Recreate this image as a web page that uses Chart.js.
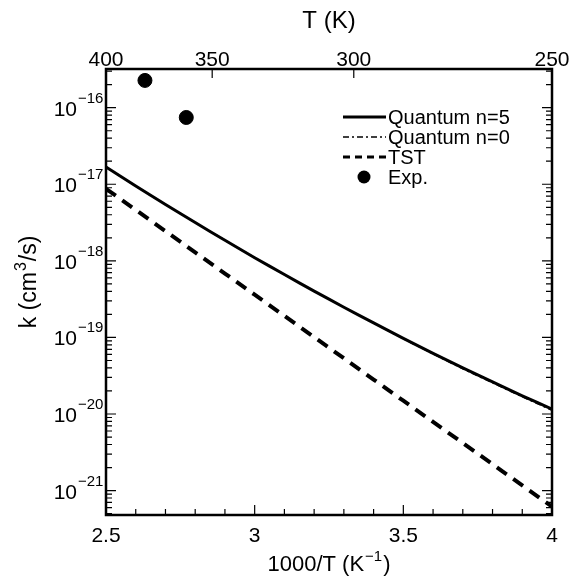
<!DOCTYPE html>
<html>
<head>
<meta charset="utf-8">
<script src="https://cdn.jsdelivr.net/npm/chart.js@4.4.1/dist/chart.umd.min.js"></script>
<style>
    html, body { margin: 0; padding: 0; background: #fff; }
    #wrap { width: 571px; height: 579px; }
</style>
</head>
<body>
<div id="wrap"><canvas id="rateChart" width="571" height="579"></canvas></div>
<script>
// 1000/T grid (K^-1) and the rate constants (cm^3/s)
const invT = [2.5, 2.6, 2.7, 2.8, 2.9, 3.0, 3.1, 3.2, 3.3, 3.4, 3.5, 3.6, 3.7, 3.8, 3.9, 4.0];
const quantum5 = [1.68e-17, 9.5e-18, 5.45e-18, 3.16e-18, 1.86e-18, 1.10e-18, 6.62e-19, 4.03e-19,
                  2.48e-19, 1.55e-19, 9.7e-20, 6.2e-20, 4.0e-20, 2.62e-20, 1.73e-20, 1.16e-20];
const quantum0 = [1.68e-17, 9.5e-18, 5.45e-18, 3.16e-18, 1.86e-18, 1.10e-18, 6.62e-19, 4.03e-19,
                  2.48e-19, 1.55e-19, 9.6e-20, 6.1e-20, 3.9e-20, 2.55e-20, 1.68e-20, 1.12e-20];
const tst = [8.73e-18, 4.62e-18, 2.44e-18, 1.29e-18, 6.83e-19, 3.61e-19, 1.91e-19, 1.01e-19,
             5.34e-20, 2.82e-20, 1.49e-20, 7.89e-21, 4.18e-21, 2.21e-21, 1.17e-21, 6.17e-22];
const expInvT = [2.631, 2.770];
const expK = [2.27e-16, 7.45e-17];

// axis labels
const xTickLabels = [2.5, 3, 3.5, 4];
const yDecades = [-16, -17, -18, -19, -20, -21];
const topTemps = [400, 350, 300, 250];

const FONT = '"Liberation Sans", Arial, Helvetica, sans-serif';

function toPoints(xs, ys) {
    return xs.map((x, i) => ({ x: x, y: ys[i] }));
}

// draws base + raised sup + tail, centred on x
function titleWithSup(ctx, base, sup, tail, x, y, size) {
    const supSize = Math.round(size * 0.68);
    ctx.font = size + 'px ' + FONT;
    const wb = ctx.measureText(base).width;
    const wt = ctx.measureText(tail).width;
    ctx.font = supSize + 'px ' + FONT;
    const ws = ctx.measureText(sup).width;
    let x0 = x - (wb + ws + wt + 2) / 2;
    ctx.textAlign = 'left';
    ctx.textBaseline = 'alphabetic';
    ctx.font = size + 'px ' + FONT;
    ctx.fillText(base, x0, y);
    ctx.font = supSize + 'px ' + FONT;
    ctx.fillText(sup, x0 + wb + 1, y - size * 0.45);
    ctx.font = size + 'px ' + FONT;
    ctx.fillText(tail, x0 + wb + ws + 2, y);
}

const framePlugin = {
    id: 'frame',
    afterDraw(chart) {
        const ctx = chart.ctx;
        const area = chart.chartArea;
        const xs = chart.scales.x;
        const ys = chart.scales.y;
        ctx.save();
        ctx.strokeStyle = '#000';
        ctx.fillStyle = '#000';

        // frame
        ctx.lineWidth = 2.5;
        ctx.strokeRect(area.left, area.top, area.right - area.left, area.bottom - area.top);

        // log ticks on left and right, pointing inward
        ctx.lineWidth = 1.2;
        for (let d = -22; d <= -16; d++) {
            for (let m = 1; m <= 9; m++) {
                const v = m * Math.pow(10, d);
                if (v < ys.min || v > ys.max) continue;
                const py = ys.getPixelForValue(v);
                const len = m === 1 ? 10 : 6;
                ctx.beginPath();
                ctx.moveTo(area.left, py); ctx.lineTo(area.left + len, py);
                ctx.moveTo(area.right, py); ctx.lineTo(area.right - len, py);
                ctx.stroke();
            }
        }

        // bottom ticks every 0.1
        for (let i = 0; i <= 15; i++) {
            const px = xs.getPixelForValue(2.5 + i * 0.1);
            const len = i % 5 === 0 ? 10 : 6;
            ctx.beginPath();
            ctx.moveTo(px, area.bottom); ctx.lineTo(px, area.bottom - len);
            ctx.stroke();
        }

        // top temperature ticks
        topTemps.forEach(T => {
            const px = xs.getPixelForValue(1000 / T);
            ctx.beginPath();
            ctx.moveTo(px, area.top); ctx.lineTo(px, area.top + 9);
            ctx.stroke();
        });

        // bottom tick labels
        ctx.font = '21px ' + FONT;
        ctx.textAlign = 'center';
        ctx.textBaseline = 'alphabetic';
        xTickLabels.forEach(v => {
            ctx.fillText(String(v), xs.getPixelForValue(v), 542);
        });

        // top tick labels
        topTemps.forEach(T => {
            ctx.fillText(String(T), xs.getPixelForValue(1000 / T), 66);
        });

        // y tick labels 10^n
        yDecades.forEach(d => {
            const py = ys.getPixelForValue(Math.pow(10, d));
            ctx.font = '21px ' + FONT;
            ctx.textAlign = 'right';
            ctx.fillText('10', 77, py + 8);
            ctx.font = '15px ' + FONT;
            ctx.textAlign = 'left';
            ctx.fillText('\u2212' + Math.abs(d), 78, py - 5);
        });

        // axis titles
        ctx.font = '24px ' + FONT;
        ctx.textAlign = 'center';
        ctx.fillText('T (K)', (area.left + area.right) / 2, 28);

        titleWithSup(ctx, '1000/T (K', '\u22121', ')', (area.left + area.right) / 2, 571, 22);

        ctx.save();
        ctx.translate(36, (area.top + area.bottom) / 2 - 10);
        ctx.rotate(-Math.PI / 2);
        titleWithSup(ctx, 'k (cm', '3', '/s)', 0, 0, 23);
        ctx.restore();

        // legend
        const rows = [
            { label: 'Quantum n=5', y: 117, dash: [], width: 3 },
            { label: 'Quantum n=0', y: 137, dash: [6, 3, 2, 3], width: 1.5 },
            { label: 'TST', y: 157, dash: [7, 5], width: 3 },
            { label: 'Exp.', y: 177, dot: true }
        ];
        rows.forEach(r => {
            if (r.dot) {
                ctx.beginPath();
                ctx.arc(364, r.y, 6.5, 0, Math.PI * 2);
                ctx.fill();
            } else {
                ctx.setLineDash(r.dash);
                ctx.lineWidth = r.width;
                ctx.beginPath();
                ctx.moveTo(343, r.y); ctx.lineTo(386, r.y);
                ctx.stroke();
                ctx.setLineDash([]);
            }
            ctx.font = '20px ' + FONT;
            ctx.textAlign = 'left';
            ctx.textBaseline = 'middle';
            ctx.fillText(r.label, 388, r.y + 1);
        });

        ctx.restore();
    }
};

new Chart(document.getElementById('rateChart'), {
    type: 'line',
    data: {
        datasets: [
            {
                label: 'Quantum n=0',
                data: toPoints(invT, quantum0),
                borderColor: '#000',
                borderWidth: 1.5,
                borderDash: [6, 3, 2, 3],
                pointRadius: 0,
                tension: 0.3
            },
            {
                label: 'Quantum n=5',
                data: toPoints(invT, quantum5),
                borderColor: '#000',
                borderWidth: 3,
                pointRadius: 0,
                tension: 0.3
            },
            {
                label: 'TST',
                data: toPoints(invT, tst),
                borderColor: '#000',
                borderWidth: 4,
                borderDash: [12, 8],
                pointRadius: 0
            },
            {
                label: 'Exp.',
                data: toPoints(expInvT, expK),
                showLine: false,
                pointRadius: 7,
                pointBackgroundColor: '#000',
                pointBorderColor: '#000'
            }
        ]
    },
    options: {
        responsive: false,
        animation: false,
        layout: { padding: { left: 106, right: 19, top: 69, bottom: 64 } },
        plugins: { legend: { display: false }, tooltip: { enabled: false } },
        scales: {
            x: { type: 'linear', min: 2.5, max: 4, display: false },
            y: { type: 'logarithmic', min: 4.8e-22, max: 3.2e-16, display: false }
        }
    },
    plugins: [framePlugin]
});
</script>
</body>
</html>
